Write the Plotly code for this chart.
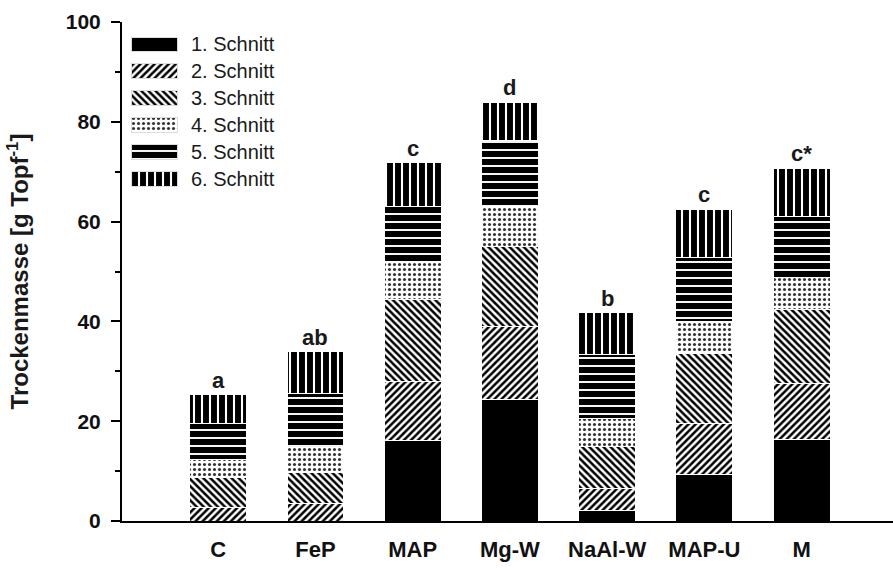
import plotly.graph_objects as go

# Treatments on the x axis
categories = ["C", "FeP", "MAP", "Mg-W", "NaAl-W", "MAP-U", "M"]

# Dry mass per cut (g per pot), stacked from the 1st to the 6th cut
cut1 = [0.0, 0.0, 16.2, 24.4, 2.2, 9.4, 16.4]
cut2 = [2.8, 3.6, 11.7, 14.5, 4.3, 10.2, 11.2]
cut3 = [6.0, 6.2, 16.4, 16.1, 8.4, 13.9, 14.7]
cut4 = [3.6, 5.0, 7.7, 8.1, 5.7, 6.4, 6.5]
cut5 = [7.2, 10.85, 11.0, 13.1, 12.8, 12.9, 12.2]
cut6 = [5.7, 8.25, 8.8, 7.7, 8.3, 9.7, 9.7]

series_names = ["1. Schnitt", "2. Schnitt", "3. Schnitt", "4. Schnitt", "5. Schnitt", "6. Schnitt"]
series_values = [cut1, cut2, cut3, cut4, cut5, cut6]

# Significance letters above each stack
sig_letters = ["a", "ab", "c", "d", "b", "c", "c*"]

y_ticks = [0, 20, 40, 60, 80, 100]

FONT = "Liberation Sans, Arial, sans-serif"


def pattern(i):
    if i == 0:
        return dict(shape="")
    specs = {
        1: ("/", 5, 0.5, "black"),
        2: ("\\", 5, 0.5, "black"),
        3: (".", 5, 0.3, "#333333"),
        4: ("-", 8, 0.76, "black"),
        5: ("|", 8, 0.74, "black"),
    }
    shape, size, solidity, fg = specs[i]
    return dict(shape=shape, size=size, solidity=solidity,
                fgcolor=fg, bgcolor="white", fgopacity=1, fillmode="overlay")


fig = go.Figure()

# Stacked bars, one trace per cut
for i, (name, vals) in enumerate(zip(series_names, series_values)):
    fig.add_trace(go.Bar(
        x=categories, y=vals, name=name, width=0.585,
        marker=dict(color="black" if i == 0 else "white",
                    pattern=pattern(i),
                    line=dict(color="white", width=1)),
        showlegend=False, xaxis="x", yaxis="y",
    ))

# Key: one wide swatch per cut on a small inset axis, names as its tick labels
for i, name in enumerate(series_names):
    fig.add_trace(go.Bar(
        x=[1], y=[name], orientation="h", width=0.55,
        marker=dict(color="black" if i == 0 else "white",
                    pattern=pattern(i),
                    line=dict(color="#dddddd", width=1)),
        showlegend=False, xaxis="x2", yaxis="y2", hoverinfo="skip",
    ))

totals = [sum(v[j] for v in series_values) for j in range(len(categories))]
for cat, tot, letter in zip(categories, totals, sig_letters):
    fig.add_annotation(
        x=cat, y=tot, xref="x", yref="y", text=f"<b>{letter}</b>",
        showarrow=False, yanchor="bottom", yshift=0,
        font=dict(family=FONT, size=22, color="#1a1a1a"),
    )

fig.update_layout(
    barmode="stack",
    width=893, height=568,
    margin=dict(l=122, r=0, t=22, b=47),
    plot_bgcolor="white", paper_bgcolor="white",
    font=dict(family=FONT, color="#1a1a1a"),
    showlegend=False,
    xaxis=dict(
        range=[-0.99, 6.94], showline=True, linecolor="black", linewidth=2,
        ticks="", showgrid=False, zeroline=False, ticklabelstandoff=8,
        tickfont=dict(family=FONT, size=22, color="#111111"),
        tickvals=categories, ticktext=[f"<b>{c}</b>" for c in categories],
    ),
    yaxis=dict(
        range=[0, 100], showline=True, linecolor="black", linewidth=2,
        ticks="outside", ticklen=9, tickwidth=2, tickcolor="black",
        tickvals=y_ticks, ticktext=[f"<b>{t}</b>" for t in y_ticks],
        minor=dict(dtick=10, ticks="outside", ticklen=5, tickwidth=1.5, tickcolor="black"),
        showgrid=False, zeroline=False, ticklabelstandoff=6,
        tickfont=dict(family=FONT, size=21, color="#111111"),
        title=dict(text="<b>Trockenmasse [g Topf<sup>-1</sup>]</b>",
                   font=dict(family=FONT, size=24, color="#1a1a1a"),
                   standoff=30),
    ),
    xaxis2=dict(domain=[0.0117, 0.0726], range=[0, 1], anchor="y2",
                visible=False, fixedrange=True),
    yaxis2=dict(domain=[0.659, 0.982], anchor="x2", side="right",
                autorange="reversed", showline=False, showgrid=False,
                zeroline=False, ticks="", ticklabelstandoff=12,
                tickfont=dict(family=FONT, size=20, color="#1a1a1a")),
)

fig.write_html("out.html")
